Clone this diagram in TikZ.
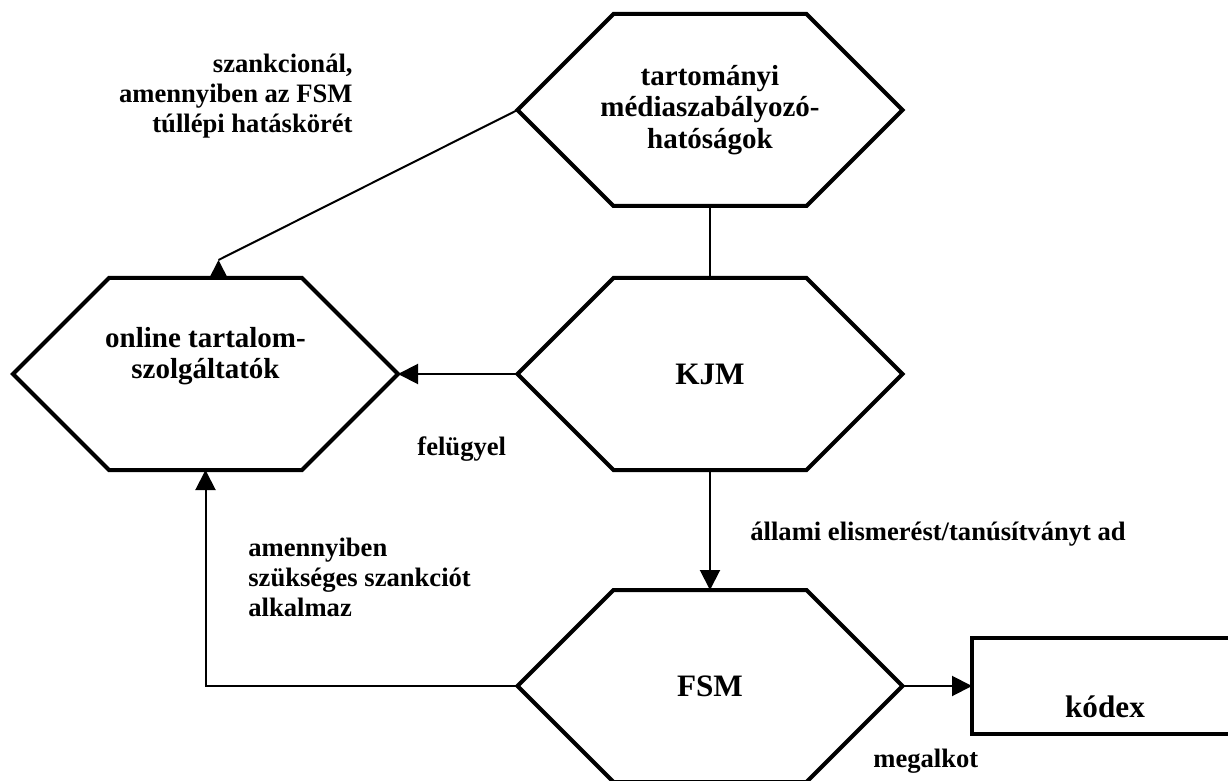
\documentclass[tikz,border=0pt]{standalone}
\usepackage{fontspec}
\setmainfont{Liberation Serif}
\usetikzlibrary{positioning,arrows.meta}

\tikzset{
	hextxt/.style={align=center,font=\fontsize{14.5}{15.75}\selectfont\bfseries},
	bigtxt/.style={font=\fontsize{15.6}{17}\selectfont\bfseries},
	hexbox/.style={hextxt,minimum width=192.5pt,minimum height=96pt,inner sep=0pt,outer sep=0pt},
	hexline/.style={line width=2pt,line join=miter},
	codebox/.style={draw,line width=2pt,minimum width=133pt,minimum height=48pt,inner sep=0pt,outer sep=0pt},
	conn/.style={line width=1pt},
	arr/.style={conn,-{Triangle[length=10pt,width=10pt]}},
	lbl/.style={inner sep=0pt,font=\fontsize{13.3}{15}\selectfont\bfseries}
}

\begin{document}
\begin{tikzpicture}[x=0.5pt,y=-0.5pt]
		\fill[white] (0,0) rectangle (1228,781);
		\useasboundingbox (0,0) rectangle (1228,781);
		\clip (0,0) rectangle (1228,781);

		\node[hexbox]			(tmh)	at (710,110)	{tartományi\\médiaszabályozó-\\hatóságok};
		\node[hexbox,bigtxt]	(kjm)	at (710,374)	{KJM};
		\node[hexbox,bigtxt]	(fsm)	at (710,686)	{FSM};
		\node[hexbox,label={[hextxt,yshift=9pt]center:online tartalom-\\szolgáltatók}]
								(ots)	at (205.5,374)	{};
		\node[codebox,label={[bigtxt,yshift=-10.5pt]center:kódex}]
								(kodex)	at (1105,686)	{};

		\foreach \hx in {tmh,kjm,fsm,ots}
			\draw[hexline] (\hx.west) -- ([xshift=48pt]\hx.north west) -- ([xshift=-48pt]\hx.north east)
				-- (\hx.east) -- ([xshift=-48pt]\hx.south east) -- ([xshift=48pt]\hx.south west) -- cycle;

		\draw[conn]	(tmh.west) -- ([xshift=6.5pt,yshift=9pt]ots.north);
		\draw[arr]	([xshift=6.5pt]ots.north) -- ++(0pt,9pt);
		\draw[conn]	(tmh.south) -- (kjm.north);
		\draw[arr]	(kjm.west) -- (ots.east);
		\draw[arr]	(kjm.south) -- (fsm.north);
		\draw[arr]	(fsm.west) -| (ots.south);
		\draw[arr]	(fsm.east) -- (kodex.west);

		\node[lbl,align=right,anchor=east]	(szank)		at (353,96.5)	{szankcionál,\\amennyiben az FSM\\túllépi hatáskörét};
		\node[lbl,anchor=base west]			(felugy)	at (417,455)	{felügyel};
		\node[lbl,anchor=base west]			(allami)	at (750,540)	{állami elismerést/tanúsítványt ad};
		\node[lbl,align=left,anchor=west]	(szukseg)	at (248,577)	{amennyiben\\szükséges szankciót\\alkalmaz};
		\node[lbl,anchor=base west]			(megalk)	at (873,767)	{megalkot};
	\end{tikzpicture}
\end{document}
